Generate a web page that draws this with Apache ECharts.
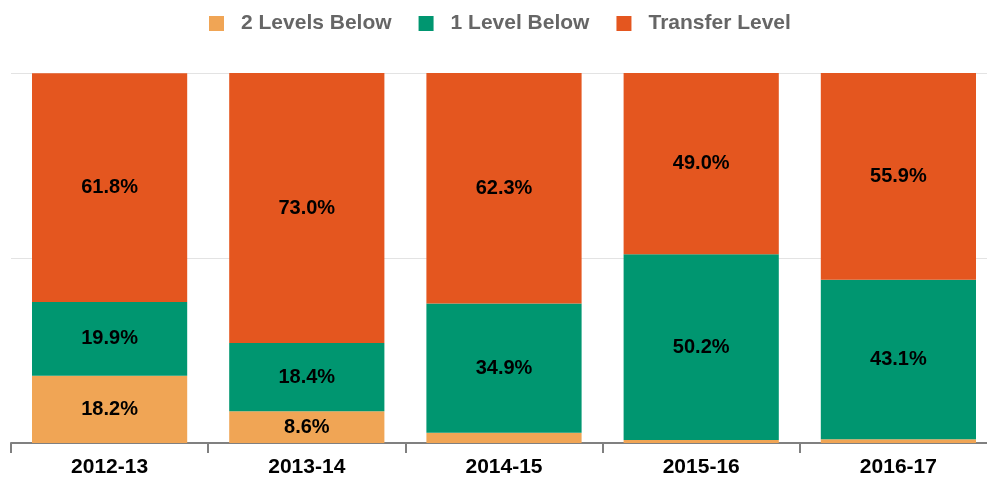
<!DOCTYPE html>
<html>
<head>
<meta charset="utf-8">
<script src="https://cdn.jsdelivr.net/npm/echarts@6/dist/echarts.min.js"></script>
<style>
  html, body { margin: 0; padding: 0; background: #fff; overflow: hidden; }
  #chart { width: 997px; height: 479px; }
</style>
</head>
<body>
<div id="chart"></div>
<script>
const years = ['2012-13', '2013-14', '2014-15', '2015-16', '2016-17']
const twoBelow = [18.2, 8.6, 2.8, 0.8, 1.0]
const oneBelow = [19.9, 18.4, 34.9, 50.2, 43.1]
const transfer = [61.8, 73.0, 62.3, 49.0, 55.9]

const chart = echarts.init(document.getElementById('chart'))
const FONT = 'Liberation Sans, Arial, sans-serif'

const lbl = {
  show: true,
  position: 'inside',
  color: '#000',
  fontSize: 20,
  fontWeight: 'bold',
  fontFamily: FONT,
  formatter: p => p.value >= 5 ? p.value.toFixed(1) + '%' : ''
}

function bar(name, data, color) {
  return {
    name, type: 'bar', stack: 'all', data,
    barWidth: '78.7%',
    itemStyle: { color },
    label: lbl
  }
}

chart.setOption({
  animation: false,
  legend: {
    top: 8,
    left: 204,
    itemWidth: 15,
    itemHeight: 15,
    itemGap: 27,
    icon: 'rect',
    textStyle: { color: '#666', fontSize: 21, fontWeight: 'bold', fontFamily: FONT, padding: [0, 0, 0, 12] }
  },
  grid: { top: 73, bottom: 36, left: 11, right: 0, containLabel: false },
  xAxis: {
    type: 'category',
    data: years,
    axisLine: { lineStyle: { color: '#808080', width: 2 } },
    axisTick: { show: true, length: 10, lineStyle: { color: '#808080', width: 2 } },
    axisLabel: { color: '#000', fontSize: 21, fontWeight: 'bold', margin: 14, fontFamily: FONT }
  },
  yAxis: {
    type: 'value', min: 0, max: 100, interval: 50,
    axisLabel: { show: false },
    axisLine: { show: false },
    axisTick: { show: false },
    splitLine: { lineStyle: { color: '#e3e3e3', width: 1 } }
  },
  series: [
    bar('2 Levels Below', twoBelow, '#F0A555'),
    bar('1 Level Below', oneBelow, '#009670'),
    bar('Transfer Level', transfer, '#E4561F')
  ]
})
</script>
</body>
</html>
